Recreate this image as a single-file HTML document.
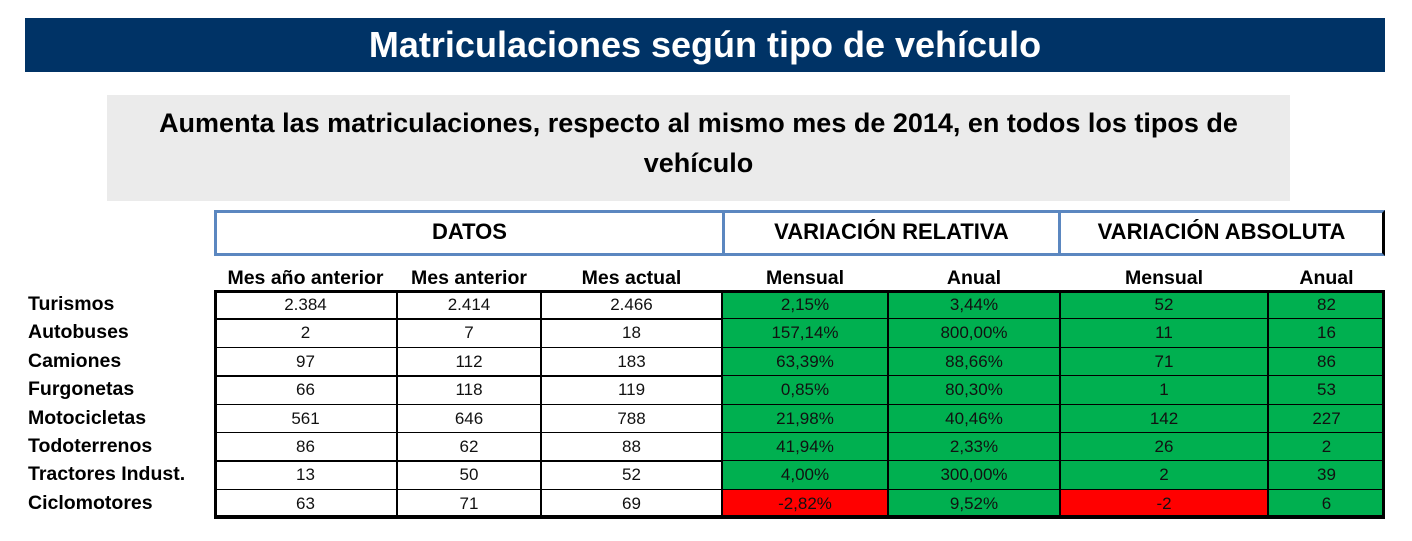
<!DOCTYPE html>
<html><head><meta charset="utf-8">
<style>
body{margin:0;width:1412px;height:541px;background:#fff;position:relative;overflow:hidden;font-family:"Liberation Sans",sans-serif;}
.abs{position:absolute;box-sizing:border-box;}
#title{left:25px;top:18px;width:1360px;height:54px;background:#003366;color:#fff;font-weight:bold;font-size:36px;text-align:center;line-height:54px;}
#sub{left:107px;top:95px;width:1183px;height:106px;background:#ebebeb;font-weight:bold;font-size:27px;text-align:center;line-height:40px;padding-top:8px;}
.grp{top:210px;height:46px;border-top:3px solid #5b87c0;border-bottom:3px solid #5b87c0;border-left:3px solid #5b87c0;font-weight:bold;font-size:22px;text-align:center;line-height:38px;}
.colh{top:264px;height:26px;font-weight:bold;font-size:19.5px;text-align:center;line-height:28px;white-space:nowrap;}
.rowl{left:28px;font-weight:bold;font-size:19.5px;white-space:nowrap;}
.cell{border:1.5px solid #000;font-size:17px;text-align:center;color:#111;}
</style></head><body>
<div class="abs" id="title">Matriculaciones según tipo de vehículo</div>
<div class="abs" id="sub">Aumenta las matriculaciones, respecto al mismo mes de 2014, en todos los tipos de<br>vehículo</div>
<div class="abs grp" style="left:214px;width:508px">DATOS</div>
<div class="abs grp" style="left:722px;width:336px">VARIACIÓN RELATIVA</div>
<div class="abs grp" style="left:1058px;width:327px;border-right:3px solid #000">VARIACIÓN ABSOLUTA</div>
<div id="tbl"></div>
<script>
const colHeaders=["Mes año anterior","Mes anterior","Mes actual","Mensual","Anual","Mensual","Anual"];
const rowLabels=["Turismos","Autobuses","Camiones","Furgonetas","Motocicletas","Todoterrenos","Tractores Indust.","Ciclomotores"];
const mesAnoAnterior=["2.384","2","97","66","561","86","13","63"];
const mesAnterior=["2.414","7","112","118","646","62","50","71"];
const mesActual=["2.466","18","183","119","788","88","52","69"];
const relMensual=["2,15%","157,14%","63,39%","0,85%","21,98%","41,94%","4,00%","-2,82%"];
const relAnual=["3,44%","800,00%","88,66%","80,30%","40,46%","2,33%","300,00%","9,52%"];
const absMensual=["52","11","71","1","142","26","2","-2"];
const absAnual=["82","16","86","53","227","2","39","6"];
const cols=[mesAnoAnterior,mesAnterior,mesActual,relMensual,relAnual,absMensual,absAnual];
const xs=[214,397,541,722,888,1060,1268,1385];
const top0=290,rowH=(517-290)/rowLabels.length;
const host=document.getElementById('tbl');
colHeaders.forEach((h,i)=>{
  const d=document.createElement('div');d.className='abs colh';
  d.style.left=xs[i]+'px';d.style.width=(xs[i+1]-xs[i])+'px';d.textContent=h;
  
  
  host.appendChild(d);
});
rowLabels.forEach((r,j)=>{
  const y=top0+j*rowH;
  const l=document.createElement('div');l.className='abs rowl';
  l.style.top=y+'px';l.style.lineHeight=(rowH+1)+'px';l.textContent=r;
  
  
  host.appendChild(l);
  cols.forEach((c,i)=>{
    const d=document.createElement('div');d.className='abs cell';
    d.style.left=xs[i]+'px';d.style.top=y+'px';
    d.style.width=(xs[i+1]-xs[i])+'px';d.style.height=(rowH+1.5)+'px';
    d.style.lineHeight=(rowH-1)+'px';
    if(i>=3){const v=parseFloat(c[j].replace(/\./g,'').replace(',','.'));d.style.background=v<0?'#ff0000':'#00b050';}
    d.textContent=c[j];
    
    
    host.appendChild(d);
  });
});
const frame=document.createElement('div');frame.className='abs';
frame.style.cssText='left:214px;top:290px;width:1171px;height:228px;border:3px solid #000;';


host.appendChild(frame);
</script>
</body></html>
